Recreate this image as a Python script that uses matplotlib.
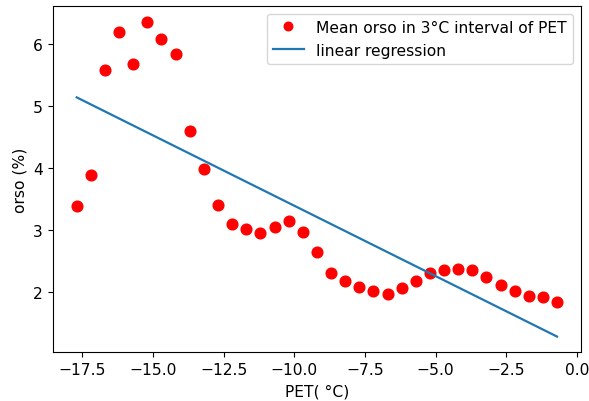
import numpy as np
import matplotlib
matplotlib.use("Agg")
import matplotlib.pyplot as plt

pet = [-17.7, -17.2, -16.7, -16.2, -15.7, -15.2, -14.7, -14.2, -13.7, -13.2,
       -12.7, -12.2, -11.7, -11.2, -10.7, -10.2, -9.7, -9.2, -8.7, -8.2,
       -7.7, -7.2, -6.7, -6.2, -5.7, -5.2, -4.7, -4.2, -3.7, -3.2,
       -2.7, -2.2, -1.7, -1.2, -0.7]
orso = [3.39, 3.89, 5.58, 6.20, 5.69, 6.37, 6.09, 5.84, 4.60, 3.99,
        3.41, 3.10, 3.02, 2.95, 3.05, 3.15, 2.97, 2.64, 2.31, 2.17,
        2.08, 2.02, 1.97, 2.07, 2.18, 2.31, 2.35, 2.37, 2.35, 2.24,
        2.11, 2.02, 1.94, 1.92, 1.84]
reg_slope = -0.2274
reg_intercept = 1.119

plt.rcParams['font.size'] = 11.2

x = np.array(pet)
fig = plt.figure(figsize=(5.89, 4.02), dpi=100)
ax = fig.add_axes([0.0895, 0.1211, 0.897, 0.862])
ax.plot(x, orso, 'o', color='red', markersize=7.7,
        label='Mean orso in 3°C interval of PET')
ax.plot(x, reg_slope * x + reg_intercept, color='#1f77b4', linewidth=1.6,
        label='linear regression')
ax.set_xlabel('PET( °C)', labelpad=4.5)
ax.set_ylabel('orso (%)')
ax.legend(loc='upper right', markerscale=0.8)
fig.savefig('out.png', dpi=100)
